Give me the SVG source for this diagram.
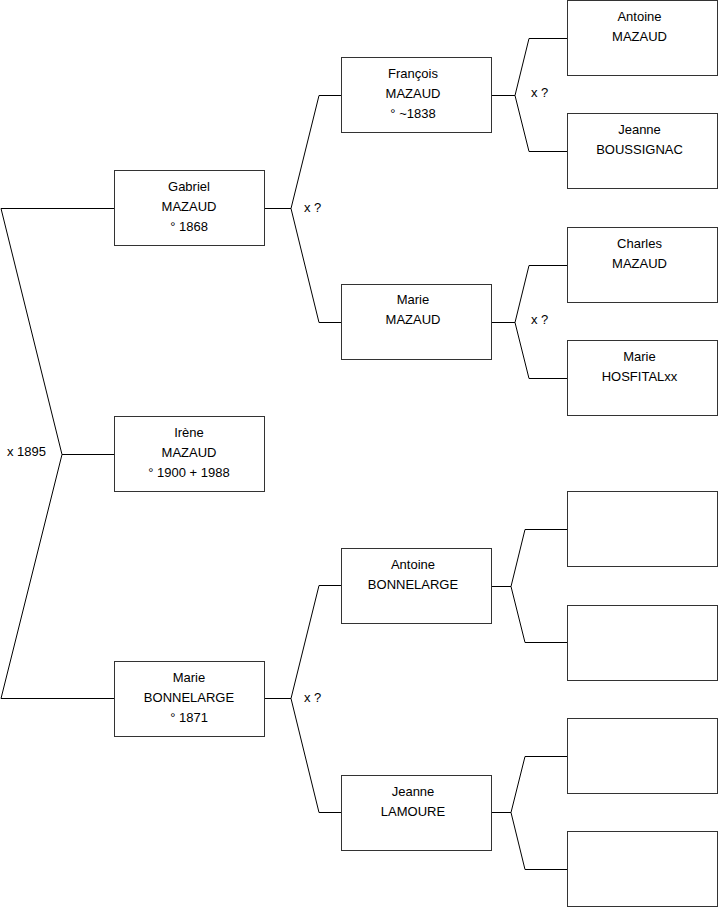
<svg xmlns="http://www.w3.org/2000/svg" width="719" height="908" viewBox="0 0 719 908">
<style>
.box{fill:#fff;stroke:#333;stroke-width:1}
.c{fill:none;stroke:#000;stroke-width:1}
text{font-family:"Liberation Sans",Arial,sans-serif;font-size:13px;fill:#000}
.m{text-anchor:middle}
</style>
<rect width="719" height="908" fill="#fff"/>
<g id="connectors">
<polyline class="c" points="114,208.5 1,208.5 62,454.5 1,698.5 114,698.5"/>
<line class="c" x1="62" y1="454.5" x2="114" y2="454.5"/>
<polyline class="c" points="341,95.5 319,95.5 291,208.5 319,322.5 341,322.5"/>
<line class="c" x1="265" y1="208.5" x2="291" y2="208.5"/>
<polyline class="c" points="341,585.5 319,585.5 291,698.5 319,812.5 341,812.5"/>
<line class="c" x1="265" y1="698.5" x2="291" y2="698.5"/>
<polyline class="c" points="567,38.5 529,38.5 515,95.5 529,151.5 567,151.5"/>
<line class="c" x1="491" y1="95.5" x2="515" y2="95.5"/>
<polyline class="c" points="567,265.5 529,265.5 515,322.5 529,378.5 567,378.5"/>
<line class="c" x1="491" y1="322.5" x2="515" y2="322.5"/>
<polyline class="c" points="567,529.5 525,529.5 511,586.5 525,642.5 567,642.5"/>
<line class="c" x1="491" y1="586.5" x2="511" y2="586.5"/>
<polyline class="c" points="567,756.5 525,756.5 511,812.5 525,869.5 567,869.5"/>
<line class="c" x1="491" y1="812.5" x2="511" y2="812.5"/>
<text x="7" y="456">x 1895</text>
<text x="304" y="212">x ?</text>
<text x="304" y="702">x ?</text>
<text x="531" y="97">x ?</text>
<text x="531" y="324">x ?</text>
</g>
<g id="gabriel"><rect class="box" x="114.5" y="170.5" width="150" height="75"/>
<text class="m" x="189" y="191">Gabriel</text><text class="m" x="189" y="211">MAZAUD</text><text class="m" x="189" y="231">° 1868</text></g>
<g id="irene"><rect class="box" x="114.5" y="416.5" width="150" height="75"/>
<text class="m" x="189" y="437">Irène</text><text class="m" x="189" y="457">MAZAUD</text><text class="m" x="189" y="477">° 1900 + 1988</text></g>
<g id="marie-b"><rect class="box" x="114.5" y="661.5" width="150" height="75"/>
<text class="m" x="189" y="682">Marie</text><text class="m" x="189" y="702">BONNELARGE</text><text class="m" x="189" y="722">° 1871</text></g>
<g id="francois"><rect class="box" x="341.5" y="57.5" width="150" height="75"/>
<text class="m" x="413" y="78">François</text><text class="m" x="413" y="98">MAZAUD</text><text class="m" x="413" y="118">° ~1838</text></g>
<g id="marie-m"><rect class="box" x="341.5" y="284.5" width="150" height="75"/>
<text class="m" x="413" y="304">Marie</text><text class="m" x="413" y="324">MAZAUD</text></g>
<g id="antoine-b"><rect class="box" x="341.5" y="548.5" width="150" height="75"/>
<text class="m" x="413" y="569">Antoine</text><text class="m" x="413" y="589">BONNELARGE</text></g>
<g id="jeanne-l"><rect class="box" x="341.5" y="775.5" width="150" height="75"/>
<text class="m" x="413" y="796">Jeanne</text><text class="m" x="413" y="816">LAMOURE</text></g>
<g id="antoine-m"><rect class="box" x="567.5" y="0.5" width="150" height="75"/>
<text class="m" x="639.5" y="21">Antoine</text><text class="m" x="639.5" y="41">MAZAUD</text></g>
<g id="jeanne-b"><rect class="box" x="567.5" y="113.5" width="150" height="75"/>
<text class="m" x="639.5" y="134">Jeanne</text><text class="m" x="639.5" y="154">BOUSSIGNAC</text></g>
<g id="charles"><rect class="box" x="567.5" y="227.5" width="150" height="75"/>
<text class="m" x="639.5" y="248">Charles</text><text class="m" x="639.5" y="268">MAZAUD</text></g>
<g id="marie-h"><rect class="box" x="567.5" y="340.5" width="150" height="75"/>
<text class="m" x="639.5" y="361">Marie</text><text class="m" x="639.5" y="381">HOSFITALxx</text></g>
<g id="empty1"><rect class="box" x="567.5" y="491.5" width="150" height="75"/></g>
<g id="empty2"><rect class="box" x="567.5" y="605.5" width="150" height="75"/></g>
<g id="empty3"><rect class="box" x="567.5" y="718.5" width="150" height="75"/></g>
<g id="empty4"><rect class="box" x="567.5" y="831.5" width="150" height="75"/></g>
</svg>
